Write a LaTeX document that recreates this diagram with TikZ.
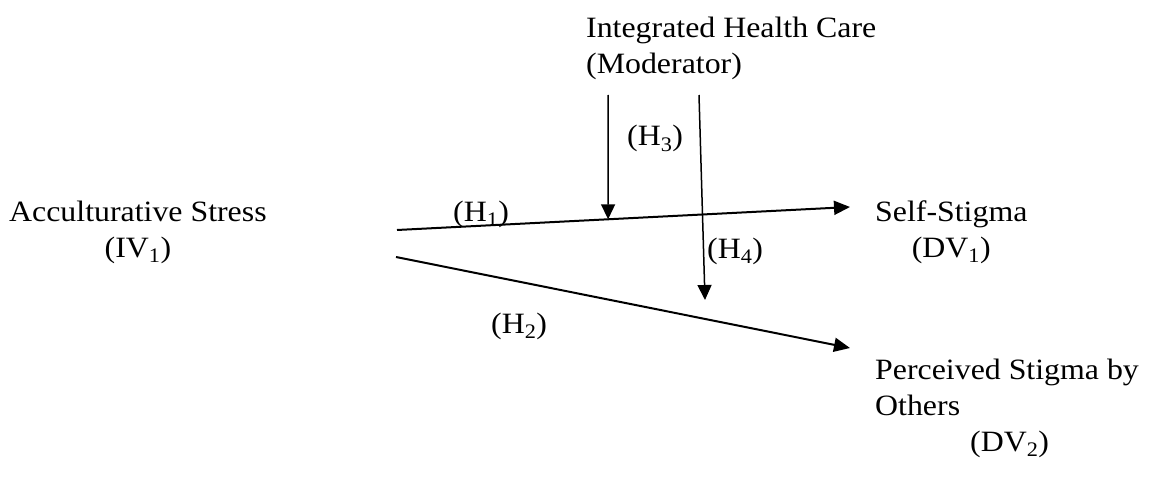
\documentclass[tikz,border=0pt]{standalone}
\usepackage{fontspec}
\setmainfont[FakeStretch=1.08]{Liberation Serif}
\usepackage{tikz}
\usetikzlibrary{arrows.meta, positioning, calc}
\tikzset{
    var/.style = {inner sep=0pt, anchor=base west, font=\fontsize{29.5}{36}\selectfont},
    hyp/.style = {var},
    link/.style = {line width=2pt, -{Triangle[length=16pt, width=14pt]}},
    modlink/.style = {line width=1.5pt, -{Triangle[length=15pt, width=14pt]}}
}

\begin{document}
\begin{tikzpicture}[x=1pt, y=-1pt]
        \useasboundingbox (0,0) rectangle (1152,487);

        % Variables (placed at the baseline of their last line)
        \node (iv) [var, align=center] at (9,257) {Acculturative Stress\\(IV\textsubscript{1})};
        \node (mod) [var, align=left] at (586,74) {Integrated Health Care\\(Moderator)};
        \node (dv1) [var, align=center] at (875,257) {Self-Stigma\\(DV\textsubscript{1})};
        \node (dv2) [var, align=left] at (875,451) {Perceived Stigma by\\Others\\\hspace*{95pt}(DV\textsubscript{2})};

        % Path end points
        \coordinate (h1s) at (397,230);
        \coordinate (h1e) at (850,207);
        \coordinate (h2s) at (396,257);
        \coordinate (h2e) at (850,348);
        \coordinate (h3s) at (608,95);
        \coordinate (h4s) at (699,95);
        \coordinate (h4e) at (705,300);

        % Main Paths
        \draw [link] (h1s) -- (h1e);
        \draw [link] (h2s) -- (h2e);

        % Moderation
        \draw [modlink] (h3s) -- ($(h1s)!0.466!(h1e)$);
        \draw [modlink] (h4s) -- (h4e);

        % Hypotheses
        \node (h1) [hyp] at (453,221) {(H\textsubscript{1})};
        \node (h2) [hyp] at (491,333) {(H\textsubscript{2})};
        \node (h3) [hyp] at (627,146) {(H\textsubscript{3})};
        \node (h4) [hyp] at (707,258) {(H\textsubscript{4})};

    \end{tikzpicture}
\end{document}
